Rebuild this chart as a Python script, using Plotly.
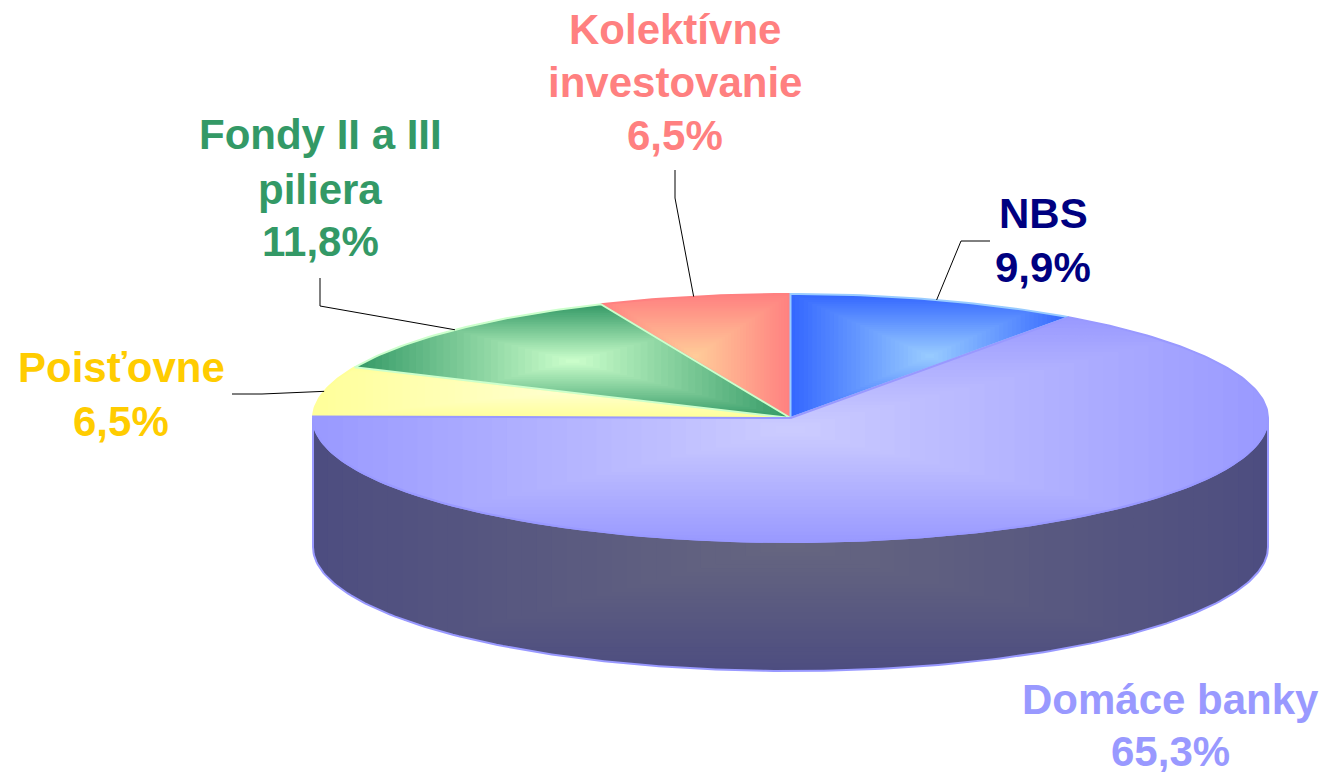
import numpy as np
import plotly.graph_objects as go

categories = ["NBS", "Domáce banky", "Poisťovne", "Fondy II a III piliera", "Kolektívne investovanie"]
values = [9.9, 65.3, 6.5, 11.8, 6.5]
value_labels = ["9,9%", "65,3%", "6,5%", "11,8%", "6,5%"]

edge_colors = ["#3366ff", "#9999ff", "#ffff99", "#339966", "#ff8080"]
center_colors = ["#99ccff", "#ccccff", "#ffffcc", "#ccffcc", "#ffcc99"]
outline_colors = ["#99ccff", "#9999ff", "#ffff99", "#ccffcc", "#ff8080"]
text_colors = ["#000080", "#9999ff", "#ffcc00", "#339966", "#ff8080"]
draw_order = [4, 2, 3, 0, 1]

side_edge, side_center, side_outline = "#4d4d80", "#666680", "#9999ff"
CX, CY, RX, RY, DEPTH = 790.5, 418.0, 477.5, 124.0, 129.0
LEVELS = 32

text_lines = {
    0: [("NBS", 1043, 213), ("9,9%", 1043, 267)],
    1: [("Domáce banky", 1170, 699), ("65,3%", 1170, 751)],
    2: [("Poisťovne", 121, 367), ("6,5%", 121, 421)],
    3: [("Fondy II a III", 320, 134), ("piliera", 320, 189), ("11,8%", 320, 241)],
    4: [("Kolektívne", 675, 29), ("investovanie", 675, 82), ("6,5%", 675, 135)],
}
leader_starts = {
    0: [(990, 241), (961, 241)],
    2: [(232, 394), (262, 394)],
    3: [(320, 278), (320, 306)],
    4: [(675, 170), (675, 198)],
}


def hex_rgb(h):
    return np.array([int(h[i:i + 2], 16) for i in (1, 3, 5)], float)


def mix(a, b, t):
    c = hex_rgb(a) * (1 - t) + hex_rgb(b) * t
    return "rgb(%d,%d,%d)" % tuple(np.round(c))


def ellipse(theta, cy=CY):
    return CX + RX * np.sin(theta), cy - RY * np.cos(theta)


def clip_rect(pts, x0, x1, y0, y1):
    def clip(points, inside, cross):
        out = []
        for i, p in enumerate(points):
            q = points[i - 1]
            if inside(p):
                if not inside(q):
                    out.append(cross(q, p))
                out.append(p)
            elif inside(q):
                out.append(cross(q, p))
        return out

    def at_x(v):
        return lambda a, b: (v, a[1] + (b[1] - a[1]) * (v - a[0]) / (b[0] - a[0]))

    def at_y(v):
        return lambda a, b: (a[0] + (b[0] - a[0]) * (v - a[1]) / (b[1] - a[1]), v)

    for inside, cross in [
        (lambda p: p[0] >= x0, at_x(x0)),
        (lambda p: p[0] <= x1, at_x(x1)),
        (lambda p: p[1] >= y0, at_y(y0)),
        (lambda p: p[1] <= y1, at_y(y1)),
    ]:
        if not pts:
            return pts
        pts = clip(pts, inside, cross)
    return pts


def add_shaded(fig, xs, ys, edge, center, outline, width=2.0):
    pts = list(zip(xs, ys))
    x0, x1, y0, y1 = min(xs), max(xs), min(ys), max(ys)
    mx, my, hw, hh = (x0 + x1) / 2, (y0 + y1) / 2, (x1 - x0) / 2, (y1 - y0) / 2
    for k in range(LEVELS):
        s = 1 - k / LEVELS
        part = clip_rect(pts, mx - hw * s, mx + hw * s, my - hh * s, my + hh * s)
        if len(part) < 3:
            continue
        px, py = zip(*part)
        fig.add_trace(go.Scatter(
            x=list(px) + [px[0]], y=list(py) + [py[0]], mode="lines", fill="toself",
            fillcolor=mix(edge, center, 1 - s + 0.5 / LEVELS), line=dict(width=0),
            hoverinfo="skip", showlegend=False))
    fig.add_trace(go.Scatter(
        x=list(xs) + [xs[0]], y=list(ys) + [ys[0]], mode="lines",
        line=dict(color=outline, width=width), hoverinfo="skip", showlegend=False))


fig = go.Figure()

# side wall of the disc
front = np.linspace(np.pi / 2, 3 * np.pi / 2, 181)
tx, ty = ellipse(front)
bx, by = ellipse(front, CY + DEPTH)
side_x = np.concatenate([bx, tx[::-1]])
side_y = np.concatenate([by, ty[::-1]])
add_shaded(fig, side_x.tolist(), side_y.tolist(), side_edge, side_center, side_outline)

# top face slices, angles follow the values clockwise from 12 o'clock
bounds = np.radians(np.concatenate([[0], np.cumsum(values)]) * 3.6)
for i in draw_order:
    theta = np.linspace(bounds[i], bounds[i + 1], max(8, int(values[i] * 4)))
    ex, ey = ellipse(theta)
    xs = [CX] + ex.tolist()
    ys = [CY] + ey.tolist()
    add_shaded(fig, xs, ys, edge_colors[i], center_colors[i], outline_colors[i])

# leader lines end on the rim at each slice's middle angle
for i, start in leader_starts.items():
    ax, ay = ellipse((bounds[i] + bounds[i + 1]) / 2)
    fig.add_trace(go.Scatter(
        x=[p[0] for p in start] + [ax], y=[p[1] for p in start] + [ay], mode="lines",
        line=dict(color="#000000", width=1), hoverinfo="skip", showlegend=False))

for i, lines in text_lines.items():
    for text, x, y in lines:
        fig.add_annotation(
            x=x, y=y, text="<b>%s</b>" % text, showarrow=False, xanchor="center", yanchor="middle",
            font=dict(family="Liberation Sans", size=42, color=text_colors[i]))

fig.update_layout(
    width=1322, height=772, margin=dict(l=0, r=0, t=0, b=0),
    paper_bgcolor="#ffffff", plot_bgcolor="#ffffff", showlegend=False,
    xaxis=dict(range=[0, 1322], visible=False, fixedrange=True),
    yaxis=dict(range=[772, 0], visible=False, fixedrange=True),
)

fig.write_html("out.html", post_script="document.body.style.margin='0';",
               config={"displayModeBar": False})
